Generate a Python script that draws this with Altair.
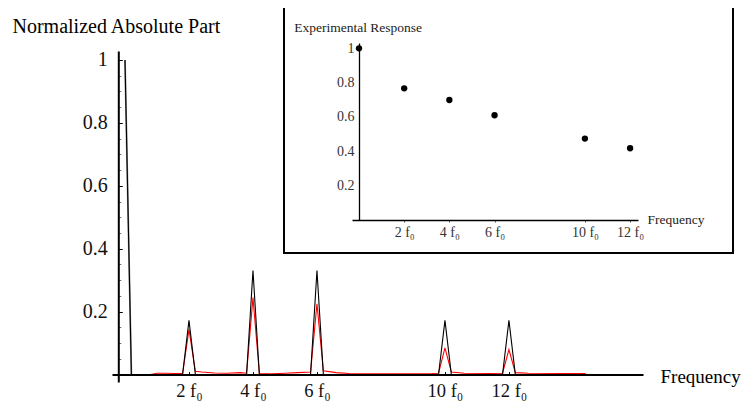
import altair as alt
import pandas as pd

FONT = "Liberation Serif"

# ---- main spectrum (normalized absolute part), frequency in units of f0 ----
black_f = [0, 0.2, 1.8, 2.0, 2.2, 3.8, 4.0, 4.2, 5.8, 6.0, 6.2, 9.8, 10.0, 10.2, 11.8, 12.0, 12.2, 14.4]
black_v = [1.0, 0, 0, 0.172, 0, 0, 0.331, 0, 0, 0.331, 0, 0, 0.172, 0, 0, 0.172, 0, 0]

dc_f = [0, 0.2]
dc_v = [1.0, 0.0]

red_f = [0.8, 1.0, 1.2, 1.6, 1.8, 2.0, 2.2, 2.4, 2.8, 3.2, 3.6, 3.8, 4.0, 4.2, 4.6, 5.0, 5.4, 5.8,
         6.0, 6.2, 6.6, 7.0, 8.0, 9.0, 9.6, 9.8, 10.0, 10.2, 10.6, 11.4, 11.8, 12.0, 12.2, 12.6, 13.6, 14.4]
red_v = [0.0, 0.004, 0.004, 0.003, 0.003, 0.143, 0.01, 0.008, 0.005, 0.004, 0.006, 0.004, 0.245, 0.003,
         0.002, 0.004, 0.006, 0.008, 0.225, 0.012, 0.006, 0.003, 0.002, 0.002, 0.003, 0.004, 0.085, 0.008,
         0.004, 0.003, 0.004, 0.079, 0.006, 0.004, 0.003, 0.003]

# ---- inset: experimental response ----
exp_f = [0, 2, 4, 6, 10, 12]
exp_v = [1.0, 0.767, 0.699, 0.61, 0.474, 0.418]

x_tick_vals = [2, 4, 6, 10, 12]
y_tick_vals = [0.2, 0.4, 0.6, 0.8, 1.0]
y_minor_vals = [0.05, 0.1, 0.15, 0.25, 0.3, 0.35, 0.45, 0.5, 0.55, 0.65, 0.7, 0.75, 0.85, 0.9, 0.95]

W, H = 531, 331
PAD = {"left": 104, "top": 43, "right": 99, "bottom": 22}

xs_main = alt.Scale(domain=[-0.406, 16.19], nice=False, zero=False)
ys_main = alt.Scale(domain=[-0.0238, 1.0286], nice=False, zero=False)
xs_in = alt.Scale(domain=[-0.31, 12.35], range=[240, 526], nice=False, zero=False)
ys_in = alt.Scale(domain=[0, 1.031], range=[169, -8], nice=False, zero=False)

label_f0 = "datum.value + ' f\u2080'"
label_num = "datum.value == 1 ? '1' : format(datum.value, '.1f')"

df_black = pd.DataFrame({"f": black_f, "v": black_v})
df_red = pd.DataFrame({"f": red_f, "v": red_v})
df_dc = pd.DataFrame({"f": dc_f, "v": dc_v})
df_exp = pd.DataFrame({"f": exp_f, "v": exp_v})

box = alt.Chart(pd.DataFrame({"a": [0]})).mark_rect(
    fill="white", stroke="black", strokeWidth=2
).encode(x=alt.value(172), x2=alt.value(621), y=alt.value(-46), y2=alt.value(202))

dc = alt.Chart(df_dc).mark_line(color="#8a8a8a", strokeWidth=1.8).encode(
    x=alt.X("f:Q", scale=xs_main, axis=alt.Axis(
        orient="top", offset=-323.5, values=x_tick_vals, labels=False, domain=False,
        ticks=True, tickSize=3, tickColor="black", tickWidth=1, title=None)),
    y=alt.Y("v:Q", scale=ys_main, axis=alt.Axis(
        orient="right", offset=-524.7, values=y_tick_vals, labels=False, domain=False,
        ticks=True, tickSize=4, tickColor="black", tickWidth=1, title=None)),
)

red = alt.Chart(df_red).mark_line(color="#ff0000", strokeWidth=1.1).encode(
    x=alt.X("f:Q", scale=xs_main, axis=None),
    y=alt.Y("v:Q", scale=ys_main, axis=alt.Axis(
        orient="right", offset=-524.7, values=y_minor_vals, labels=False, domain=False,
        ticks=True, tickSize=2.5, tickColor="#444", tickWidth=0.8, title=None)),
)

black = alt.Chart(df_black).mark_line(color="black", strokeWidth=1.1).encode(
    x=alt.X("f:Q", scale=xs_main, axis=alt.Axis(
        orient="bottom", offset=-7.5, values=x_tick_vals, labelExpr=label_f0,
        ticks=False, domain=True, domainColor="black", domainWidth=2,
        labelFontSize=18.5, labelBaseline="middle", labelPadding=16, labelColor="#111",
        title="Frequency", titleFontSize=19, titleX=548, titleY=8,
        titleAlign="left", titleBaseline="alphabetic", titleAnchor="start")),
    y=alt.Y("v:Q", scale=ys_main, axis=alt.Axis(
        orient="left", offset=-6.3, values=y_tick_vals, labelExpr=label_num,
        ticks=False, domain=True, domainColor="black", domainWidth=2,
        labelFontSize=20, labelPadding=11, labelColor="#111",
        title="Normalized Absolute Part", titleFontSize=20, titleAngle=0,
        titleX=-106.3, titleY=-19, titleAlign="left", titleBaseline="alphabetic",
        titleAnchor="start")),
)

inset = alt.Chart(df_exp).mark_circle(size=40, color="black", opacity=1).encode(
    x=alt.X("f:Q", scale=xs_in, axis=alt.Axis(
        orient="bottom", offset=-162, values=x_tick_vals, labelExpr=label_f0,
        ticks=True, tickSize=2, tickColor="#555", domain=True, domainColor="black",
        domainWidth=1.3, labelFontSize=14, labelBaseline="middle", labelPadding=10,
        labelColor="#333", zindex=1,
        title="Frequency", titleFontSize=13.5, titleX=535, titleY=3.5, titleColor="#222",
        titleAlign="left", titleBaseline="alphabetic", titleAnchor="start")),
    y=alt.Y("v:Q", scale=ys_in, axis=alt.Axis(
        orient="left", offset=-247, values=y_tick_vals, labelExpr=label_num,
        ticks=False, domain=True, domainColor="black", domainWidth=1.3,
        labelFontSize=14, labelPadding=5, labelColor="#333", zindex=1,
        title="Experimental Response", titleFontSize=13.5, titleAngle=0, titleColor="#222",
        titleX=-65.3, titleY=-19.3, titleAlign="left", titleBaseline="alphabetic",
        titleAnchor="start")),
)

chart = alt.layer(box, dc, red, black, inset).resolve_scale(
    x="independent", y="independent"
).properties(
    width=W, height=H, padding=PAD,
    autosize=alt.AutoSizeParams(type="none"),
    background="white",
).configure_view(stroke=None).configure_axis(
    labelFont=FONT, titleFont=FONT, titleFontWeight="normal", grid=False,
    titleColor="black",
)

chart.save("out.html", embed_options={"renderer": "svg", "actions": False})
